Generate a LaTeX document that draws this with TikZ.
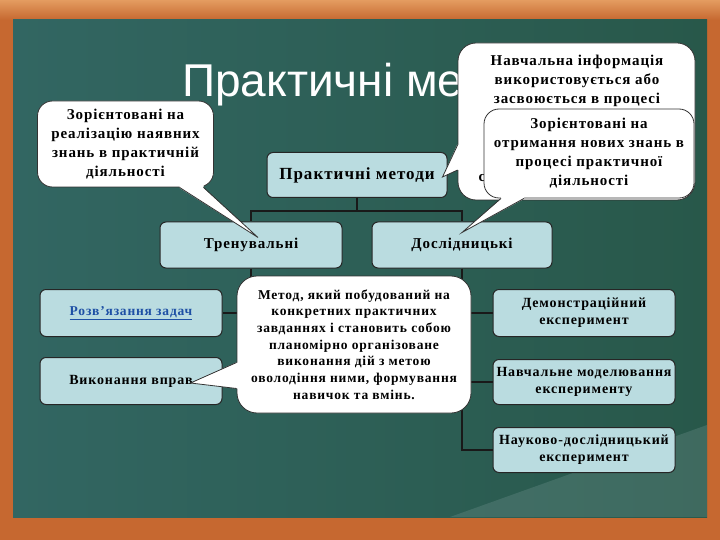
\documentclass[tikz,border=0pt]{standalone}
\usepackage{fontspec}
\setmainfont[LetterSpace=6]{Liberation Serif}
\newfontfamily\titlefont{Liberation Sans}
\usetikzlibrary{calc}
\definecolor{wood}{RGB}{198,104,48}
\definecolor{woodlight}{RGB}{228,156,96}
\definecolor{board}{RGB}{40,88,74}
\definecolor{boardleft}{RGB}{50,102,98}
\definecolor{boxblue}{RGB}{186,220,224}
\definecolor{linkblue}{RGB}{30,80,165}

\begin{document}
\begin{tikzpicture}[x=1pt,y=-1pt,
   box/.style={draw=black!85,line width=1pt,fill=boxblue,rounded corners=6pt,
      minimum width=182,minimum height=46,inner sep=0pt,align=center,
      font=\bfseries\fontsize{14}{17}\selectfont},
   tree/.style={draw=black!90,line width=1.8pt},
   callout/.style={draw=black!80,line width=0.8pt,fill=white,inner sep=0pt,
      align=center,font=\bfseries\fontsize{15}{19}\selectfont},
   tail/.style={draw=black!80,line width=0.8pt,line join=miter}]
   \useasboundingbox (0,0) rectangle (720,540);

   % frame and board
   \fill[wood] (0,0) rectangle (720,540);
   \shade[top color=woodlight,bottom color=wood] (0,0) rectangle (720,20);
   \shade[left color=boardleft,right color=board] (13,20) rectangle (707,517);
   \fill[boardleft!60!white,opacity=0.25] (450,517) -- (707,425) -- (707,517) -- cycle;

   % title
   \node[anchor=base west,text=white,inner sep=0pt,font=\titlefont\fontsize{46}{50}\selectfont] (title) at (182,97) {Практичні методи};

   % tree
   \node[box,minimum width=180,minimum height=45,font=\bfseries\fontsize{17}{20}\selectfont] (root) at (357,175) {Практичні методи};
   \node[box,font=\bfseries\fontsize{15}{18}\selectfont] (tren) at (251,245) {Тренувальні};
   \node[box,minimum width=180,font=\bfseries\fontsize{15}{18}\selectfont] (dosl) at (462,245) {Дослідницькі};
   \node[box,minimum height=47,text=linkblue,font=\bfseries\fontsize{13.5}{16}\selectfont] (rozv) at (131,313) {\underline{Розв’язання задач}};
   \node[box,minimum height=47] (vykon) at (131,381) {Виконання вправ};
   \node[box,minimum height=47] (demo) at (584,313) {Демонстраційний\\ експеримент};
   \node[box,minimum height=45] (model) at (584,382) {Навчальне моделювання\\ експерименту};
   \node[box,minimum height=45] (nauk) at (584,450) {Науково-дослідницький\\ експеримент};

   \draw[tree] (root.south) -- ++(0,13) -| (tren.north);
   \draw[tree] (root.south) -- ++(0,13) -| (dosl.north);
   \draw[tree] (tren.south) |- (rozv.east);
   \draw[tree] (tren.south) |- (vykon.east);
   \draw[tree] (dosl.south) |- (demo.west);
   \draw[tree] (dosl.south) |- (model.west);
   \draw[tree] (dosl.south) |- (nauk.west);

   % callouts
   \node[callout,minimum width=176,minimum height=86,rounded corners=15pt] (c1) at (125.5,144) {Зорієнтовані на\\ реалізацію наявних\\ знань в практичній\\ діяльності};
   \coordinate (t1) at ($(tren.north)+(7,16)$);
   \fill[white] ($(c1.south)+(54,-3)$) -- ($(c1.south)+(54,0.5)$) -- (t1) -- ($(c1.south)+(78,0.5)$) -- ($(c1.south)+(78,-3)$) -- cycle;
   \draw[tail] ($(c1.south)+(54,0)$) -- (t1) -- ($(c1.south)+(78,0)$);

   \node[callout,minimum width=234,minimum height=137,rounded corners=20pt,font=\bfseries\fontsize{13.5}{16.7}\selectfont] (c2) at (354,344.5) {Метод, який побудований на\\ конкретних практичних\\ завданнях і становить собою\\ планомірно організоване\\ виконання дій з метою\\ оволодіння ними, формування\\ навичок та вмінь.};
   \coordinate (t2) at ($(vykon.east)+(-32,2)$);
   \fill[white] ($(c2.west)+(3,18)$) -- ($(c2.west)+(-0.5,18)$) -- (t2) -- ($(c2.west)+(-0.5,44)$) -- ($(c2.west)+(3,44)$) -- cycle;
   \draw[tail] ($(c2.west)+(0,18)$) -- (t2) -- ($(c2.west)+(0,44)$);

   \node[callout,minimum width=237,minimum height=157,rounded corners=18pt] (c3) at (576.5,121.5) {};
   \node[align=center,inner sep=0pt,font=\bfseries\fontsize{15}{19}\selectfont] (c3text) at (577,81) {Навчальна інформація\\ використовується або\\ засвоюється в процесі};
   \node[inner sep=0pt,font=\bfseries\fontsize{15}{19}\selectfont] (c3more) at (482,178) {с};
   \coordinate (t3) at ($(root.east)+(-5,2)$);
   \fill[white] ($(c3.west)+(3,23.5)$) -- ($(c3.west)+(-0.5,23.5)$) -- (t3) -- ($(c3.west)+(-0.5,48.5)$) -- ($(c3.west)+(3,48.5)$) -- cycle;
   \draw[tail] ($(c3.west)+(0,23.5)$) -- (t3) -- ($(c3.west)+(0,48.5)$);

   \node[callout,minimum width=210,minimum height=89,rounded corners=15pt] (c4) at (589,153.5) {Зорієнтовані на\\ отримання нових знань в\\ процесі практичної\\ діяльності};
   \coordinate (t4) at ($(dosl.north)+(0,11)$);
   \fill[white] ($(c4.south)+(-88,-3)$) -- ($(c4.south)+(-88,0.5)$) -- (t4) -- ($(c4.south)+(-65,0.5)$) -- ($(c4.south)+(-65,-3)$) -- cycle;
   \draw[tail] ($(c4.south)+(-88,0)$) -- (t4) -- ($(c4.south)+(-65,0)$);
\end{tikzpicture}
\end{document}
